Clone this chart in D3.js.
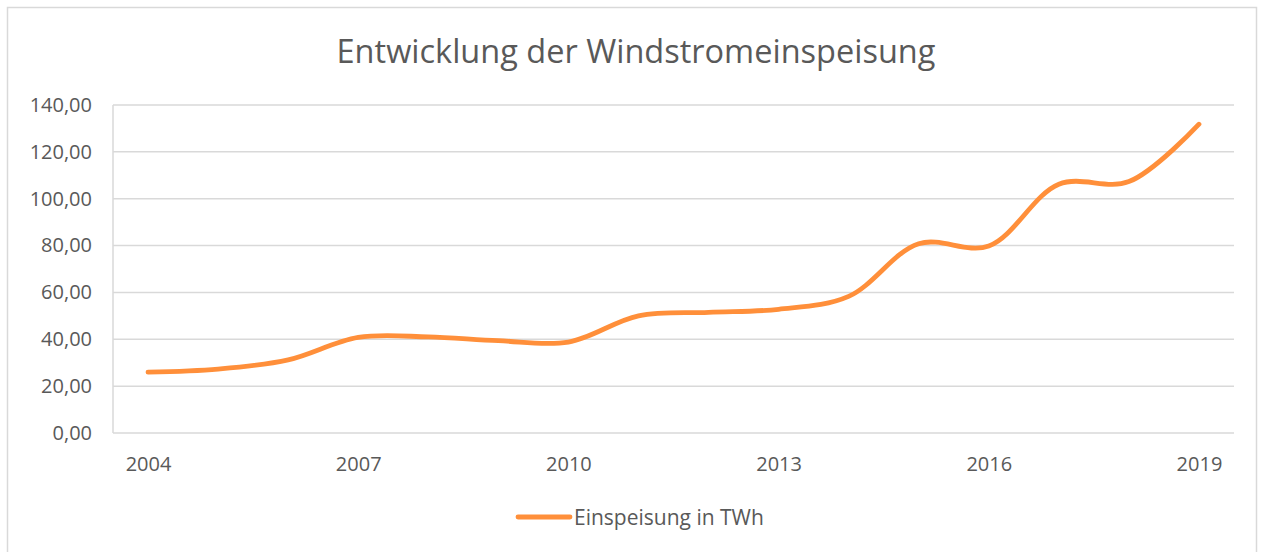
<html>
<head>
<meta charset="utf-8">
<script src="https://d3js.org/d3.v7.min.js"></script>
<style>
body {margin: 0; background: #fff;}
text {font-family: "Open Sans", "Noto Sans", sans-serif; fill: #595959;}
</style>
</head>
<body>
<svg id="chart" width="1264" height="552"></svg>
<script>
// data
const years = ["2004","2005","2006","2007","2008","2009","2010","2011",
               "2012","2013","2014","2015","2016","2017","2018","2019"];
const einspeisung = [26.0, 27.3, 31.2, 40.8, 41.0, 39.4, 38.8, 50.0,
                     51.5, 52.8, 58.3, 80.8, 79.8, 106.2, 107.3, 131.8];
const yTicks = [0, 20, 40, 60, 80, 100, 120, 140];
const xLabels = ["2004","2007","2010","2013","2016","2019"];
const title = "Entwicklung der Windstromeinspeisung";
const seriesName = "Einspeisung in TWh";

const svg = d3.select("#chart");
const margin = {top: 105, right: 30, bottom: 119, left: 113};
const W = 1264, H = 552;
const width = W - margin.left - margin.right,
      height = H - margin.top - margin.bottom;

// chart frame
svg.append("rect")
  .attr("x", 7.5).attr("y", 7.5)
  .attr("width", 1249).attr("height", 560)
  .attr("fill", "none").attr("stroke", "#d9d9d9").attr("stroke-width", 1.5);

svg.append("text")
  .attr("x", 636).attr("y", 63)
  .attr("text-anchor", "middle")
  .style("font-size", "32.5px")
  .text(title);

const x = d3.scalePoint().domain(years).range([0, width]).padding(0.5);
const y = d3.scaleLinear().domain([0, 140]).range([height, 0]);

const g = svg.append("g").attr("transform", "translate(" + margin.left + "," + margin.top + ")");

// gridlines
g.append("g").selectAll("line")
  .data(yTicks)
  .enter().append("line")
  .attr("x1", 0).attr("x2", width)
  .attr("y1", d => y(d)).attr("y2", d => y(d))
  .attr("stroke", "#d9d9d9").attr("stroke-width", 1.5);

// vertical axis line
g.append("line")
  .attr("x1", 0).attr("x2", 0).attr("y1", 0).attr("y2", height)
  .attr("stroke", "#d9d9d9").attr("stroke-width", 1.5);

// y labels
const fmt = d => d3.format(".2f")(d).replace(".", ",");
const yAxis = d3.axisLeft(y).tickValues(yTicks).tickFormat(fmt).tickSize(0).tickPadding(21);
g.append("g").call(yAxis)
  .call(a => a.select(".domain").remove())
  .selectAll("text").style("font-size", "20px").attr("fill", "#595959");

// x labels
const xAxis = d3.axisBottom(x).tickValues(xLabels).tickSize(0).tickPadding(24);
g.append("g").attr("transform", "translate(0," + height + ")").call(xAxis)
  .call(a => a.select(".domain").remove())
  .selectAll("text").style("font-size", "20px").attr("fill", "#595959");

// line
const line = d3.line()
  .x((d, i) => x(years[i]))
  .y(d => y(d))
  .curve(d3.curveCatmullRom);

g.append("path")
  .datum(einspeisung)
  .attr("d", line)
  .attr("fill", "none")
  .attr("stroke", "#ff8f3a")
  .attr("stroke-width", 4.8)
  .attr("stroke-linecap", "round");

// legend
const lg = svg.append("g").attr("transform", "translate(518,517)");
lg.append("line")
  .attr("x1", 0).attr("x2", 52).attr("y1", 0).attr("y2", 0)
  .attr("stroke", "#ff8f3a").attr("stroke-width", 4.8).attr("stroke-linecap", "round");
lg.append("text")
  .attr("x", 56).attr("y", 7.5)
  .style("font-size", "21px")
  .text(seriesName);
</script>
</body>
</html>
